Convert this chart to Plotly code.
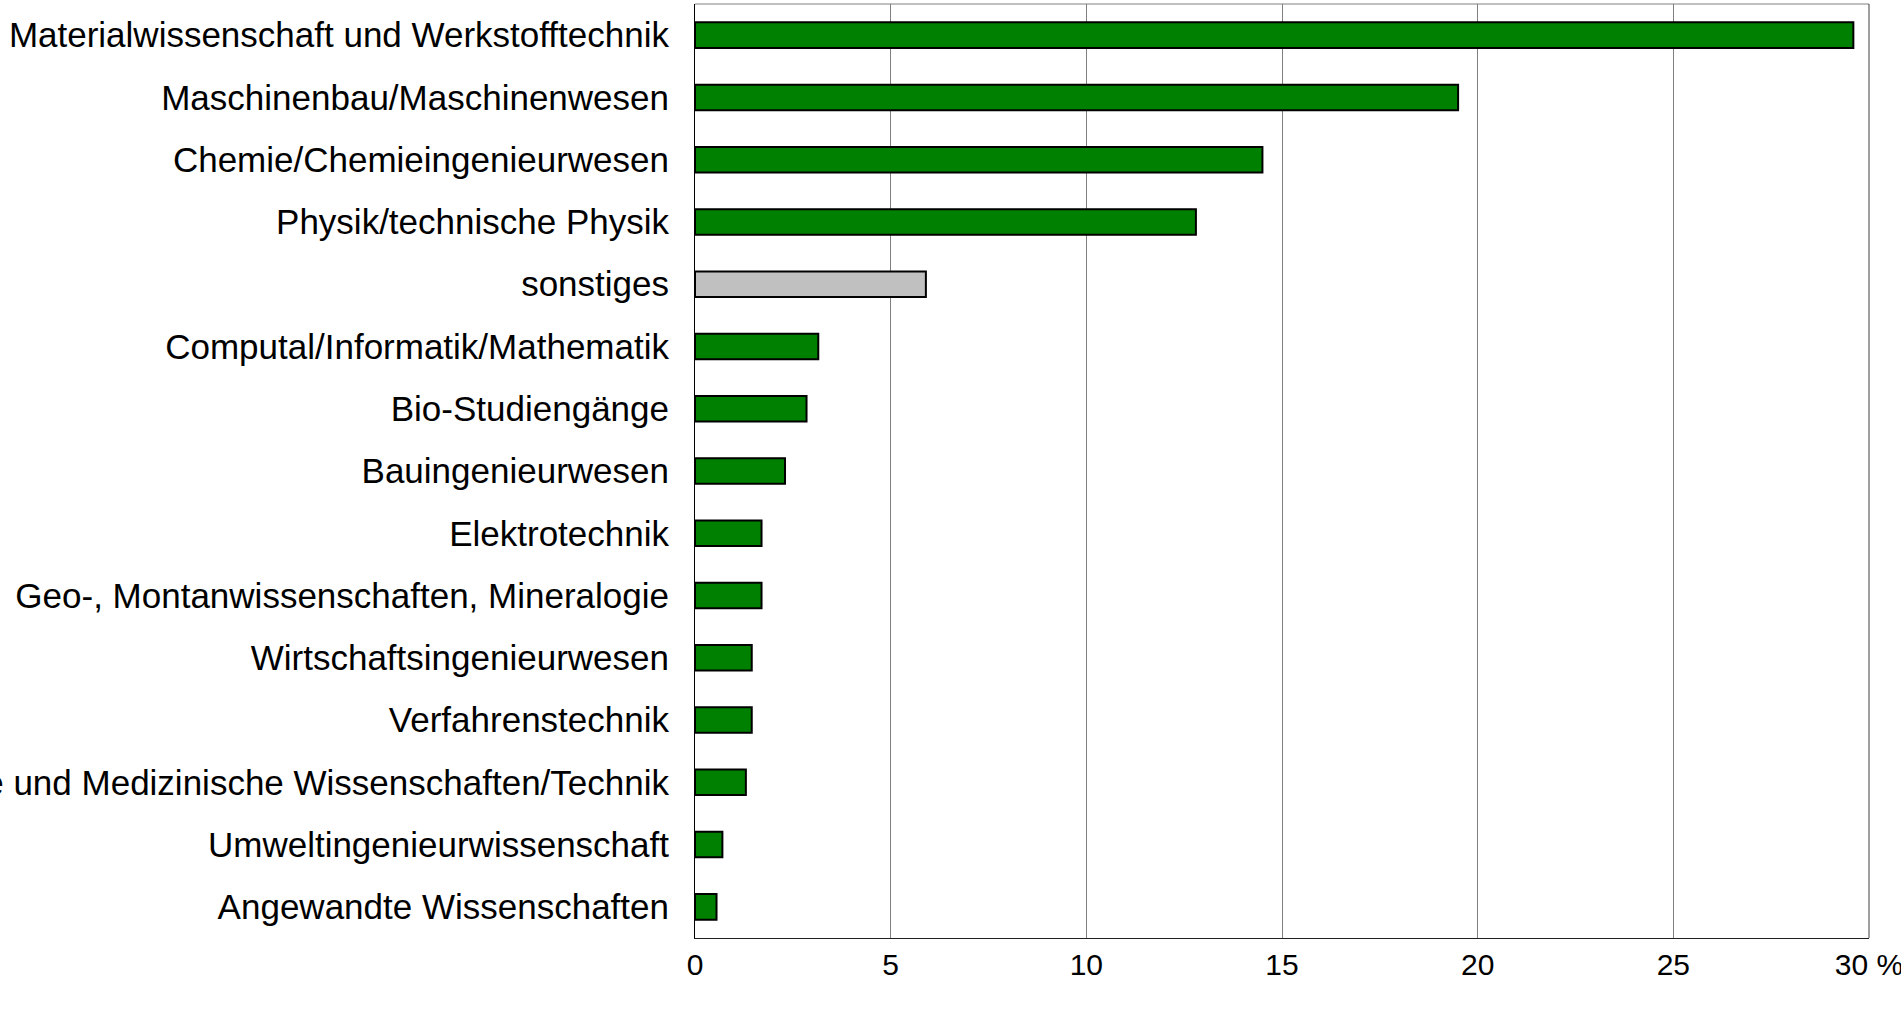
import plotly.graph_objects as go

FONT = "Liberation Sans, Arial, sans-serif"
GREEN = "#008000"
GREY_BAR = "#C0C0C0"
GRID = "#808080"

categories = [
    "Materialwissenschaft und Werkstofftechnik",
    "Maschinenbau/Maschinenwesen",
    "Chemie/Chemieingenieurwesen",
    "Physik/technische Physik",
    "sonstiges",
    "Computal/Informatik/Mathematik",
    "Bio-Studiengänge",
    "Bauingenieurwesen",
    "Elektrotechnik",
    "Geo-, Montanwissenschaften, Mineralogie",
    "Wirtschaftsingenieurwesen",
    "Verfahrenstechnik",
    "Pharmazie und Medizinische Wissenschaften/Technik",
    "Umweltingenieurwissenschaft",
    "Angewandte Wissenschaften",
]
shares = [29.6, 19.5, 14.5, 12.8, 5.9, 3.15, 2.85, 2.3, 1.7, 1.7, 1.45, 1.45, 1.3, 0.7, 0.55]

tick_vals = [0, 5, 10, 15, 20, 25, 30]
tick_text = ["0", "5", "10", "15", "20", "25", "30 %"]

colors = [GREY_BAR if c == "sonstiges" else GREEN for c in categories]

fig = go.Figure(
    go.Bar(
        x=shares,
        y=categories,
        orientation="h",
        marker=dict(color=colors, line=dict(color="#000000", width=2)),
        hovertemplate="%{y}: %{x:.1f} %<extra></extra>",
    )
)

fig.update_xaxes(
    range=[0, 30],
    tickvals=tick_vals,
    ticktext=tick_text,
    showgrid=True,
    gridcolor=GRID,
    gridwidth=1,
    zeroline=False,
    showline=True,
    linecolor="#202020",
    linewidth=1,
    ticks="",
    ticklabeloverflow="allow",
    tickfont=dict(size=30, color="#000000"),
    automargin=False,
)
fig.update_yaxes(
    autorange="reversed",
    showgrid=False,
    showline=True,
    linecolor="#000000",
    linewidth=1,
    ticks="",
    ticklabelstandoff=18,
    ticklabeloverflow="allow",
    tickfont=dict(size=35, color="#000000"),
    automargin=False,
)

# top and right frame lines
fig.add_shape(type="line", xref="paper", yref="paper", x0=0, x1=1, y0=1, y1=1,
              line=dict(color=GRID, width=1))
fig.add_shape(type="line", xref="paper", yref="paper", x0=1, x1=1, y0=0, y1=1,
              line=dict(color="#404040", width=1))

fig.update_layout(
    width=1901,
    height=1012,
    paper_bgcolor="#FFFFFF",
    plot_bgcolor="#FFFFFF",
    font=dict(family=FONT, color="#000000"),
    margin=dict(l=695, r=32, t=4, b=74),
    bargap=0.59,
    showlegend=False,
)

fig.write_html(
    "out.html",
    config={"displayModeBar": False},
    post_script="document.body.style.margin='0';",
)
